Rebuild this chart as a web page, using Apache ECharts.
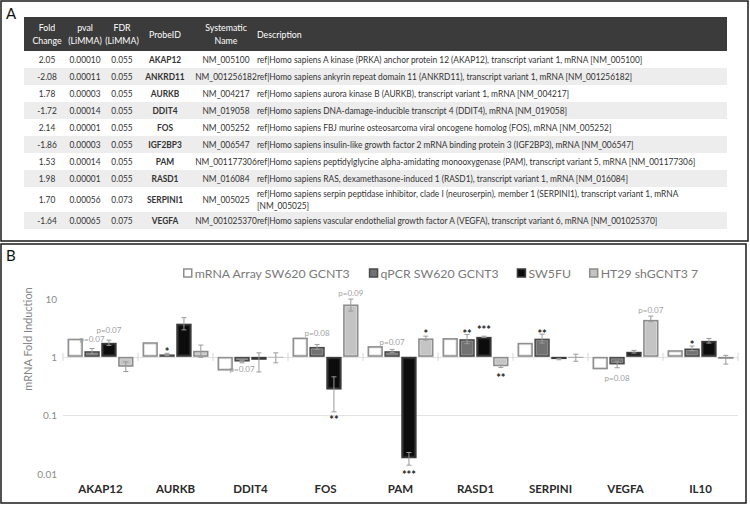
<!DOCTYPE html>
<html><head><meta charset="utf-8">
<script src="https://cdn.jsdelivr.net/npm/echarts@6/dist/echarts.min.js"></script>
<style>html,body{margin:0;padding:0;background:#fff}#c{width:750px;height:505px}</style>
</head><body><div id="c"></div>
<script>
// ---------- Panel A : table ----------
const tableHeaders = [['Fold','Change'],['pval','(LiMMA)'],['FDR','(LiMMA)'],['ProbeID'],['Systematic','Name'],['Description']];
const foldChange = ['2.05','-2.08','1.78','-1.72','2.14','-1.86','1.53','1.98','1.70','-1.64'];
const pvalLimma = ['0.00010','0.00011','0.00003','0.00014','0.00001','0.00003','0.00014','0.00001','0.00056','0.00065'];
const fdrLimma = ['0.055','0.055','0.055','0.055','0.055','0.055','0.055','0.055','0.073','0.075'];
const probeIDs = ['AKAP12','ANKRD11','AURKB','DDIT4','FOS','IGF2BP3','PAM','RASD1','SERPINI1','VEGFA'];
const systematicNames = ['NM_005100','NM_001256182','NM_004217','NM_019058','NM_005252','NM_006547','NM_001177306','NM_016084','NM_005025','NM_001025370'];
const descriptions = [
 'ref|Homo sapiens A kinase (PRKA) anchor protein 12 (AKAP12), transcript variant 1, mRNA [NM_005100]',
 'ref|Homo sapiens ankyrin repeat domain 11 (ANKRD11), transcript variant 1, mRNA [NM_001256182]',
 'ref|Homo sapiens aurora kinase B (AURKB), transcript variant 1, mRNA [NM_004217]',
 'ref|Homo sapiens DNA-damage-inducible transcript 4 (DDIT4), mRNA [NM_019058]',
 'ref|Homo sapiens FBJ murine osteosarcoma viral oncogene homolog (FOS), mRNA [NM_005252]',
 'ref|Homo sapiens insulin-like growth factor 2 mRNA binding protein 3 (IGF2BP3), mRNA [NM_006547]',
 'ref|Homo sapiens peptidylglycine alpha-amidating monooxygenase (PAM), transcript variant 5, mRNA [NM_001177306]',
 'ref|Homo sapiens RAS, dexamethasone-induced 1 (RASD1), transcript variant 1, mRNA [NM_016084]',
 'ref|Homo sapiens serpin peptidase inhibitor, clade I (neuroserpin), member 1 (SERPINI1), transcript variant 1, mRNA\n[NM_005025]',
 'ref|Homo sapiens vascular endothelial growth factor A (VEGFA), transcript variant 6, mRNA [NM_001025370]'
];

// ---------- Panel B : bar chart ----------
const genes = ['AKAP12','AURKB','DDIT4','FOS','PAM','RASD1','SERPINI','VEGFA','IL10'];
const seriesNames = ['mRNA Array SW620 GCNT3','qPCR SW620 GCNT3','SW5FU','HT29 shGCNT3 7'];
const mrnaArray = [2.05, 1.78, 0.581, 2.14, 1.53, 2.1, 1.74, 0.61, 1.3];
const qpcrSW620 = [1.25, 1.1, 0.83, 1.48, 1.25, 2.01, 2.05, 0.74, 1.39];
const sw5fu     = [1.74, 3.7, 0.89, 0.275, 0.0183, 2.2, 0.915, 1.22, 1.88];
const ht29      = [0.676, 1.27, 0.98, 7.9, 2.07, 0.69, 0.97, 4.3, 0.924];
const mrnaErr   = [null,null,null,null,null,null,null,null,null];
const qpcrErr   = [[1.13,1.39],[1.05,1.15],[0.79,0.87],[1.35,1.63],[1.18,1.34],[1.68,2.42],[1.72,2.45],[0.65,0.84],[1.27,1.53]];
const sw5fuErr  = [[1.57,1.93],[2.9,4.7],[0.55,1.17],[0.114,0.454],[0.0139,0.0229],[2.15,2.26],[0.89,0.94],[1.16,1.29],[1.72,2.07]];
const ht29Err   = [[0.56,0.82],[0.98,1.59],[0.79,1.17],[6.08,9.77],[1.93,2.26],[0.66,0.72],[0.84,1.11],[3.98,4.99],[0.75,1.06]];
const yTicks = [0.01, 0.1, 1, 10];
// [gene index, series index, value position, text]
const annotations = [
 [0,1,2.01,'p=0.07'],[0,2,2.87,'p=0.07'],[1,1,1.41,'*'],[2,1,0.615,'p=0.07'],
 [3,1,2.58,'p=0.08'],[3,2,0.0935,'**'],[3,3,12.4,'p=0.09'],
 [4,1,1.81,'p=0.07'],[4,2,0.011,'***'],[4,3,2.79,'*'],
 [5,1,2.87,'**'],[5,2,3.36,'***'],[5,3,0.505,'**'],
 [6,1,2.87,'**'],[7,1,0.426,'p=0.08'],[7,3,6.32,'p=0.07'],[8,1,1.81,'*']
];

// ---------- styles / layout ----------
const FONT = 'Lato, "Open Sans", sans-serif';
const barStyles = [
  {frame:'#8f8f8f', inner:'#ffffff', hl:'#e8e8e8'},
  {frame:'#4a4a4a', inner:'#727272', hl:'#9a9a9a'},
  {frame:'#3a3a3a', inner:'#0c0c0c', hl:'#2a2a2a'},
  {frame:'#8c8c8c', inner:'#c4c4c4', hl:'#dedede'}
];
const seriesValues = [mrnaArray, qpcrSW620, sw5fu, ht29];
const seriesErrs = [mrnaErr, qpcrErr, sw5fuErr, ht29Err];

function barGeom(api, cat, sIdx){
  const c0 = api.coord([cat, 1]);
  const band = api.coord([1,1])[0] - api.coord([0,1])[0];
  const bw = band*0.205, gap = band*0.02;
  const total = 4*bw + 3*gap;
  const x0 = c0[0] - total/2 + sIdx*(bw+gap);
  return {x0, bw, cx: x0 + bw/2, y1: c0[1], band};
}

function makeBarRender(sIdx){
  return function(params, api){
    const cat = api.value(0), v = api.value(1);
    const g = barGeom(api, cat, sIdx);
    const yv = api.coord([cat, v])[1];
    const top = Math.min(yv, g.y1), h = Math.abs(yv - g.y1);
    const st = barStyles[sIdx];
    const ins = 2;
    const children = [
      {type:'rect', shape:{x:g.x0, y:top, width:g.bw, height:h}, style:{fill:st.frame}}
    ];
    if (h > 2*ins) {
      children.push({type:'rect', shape:{x:g.x0+ins, y:top+ins, width:g.bw-2*ins, height:h-2*ins}, style:{fill:st.inner, stroke:st.hl, lineWidth:0.8}});
    }
    return {type:'group', children};
  };
}

function makeErrRender(sIdx){
  return function(params, api){
    const cat = api.value(0), lo = api.value(1), hi = api.value(2);
    const g = barGeom(api, cat, sIdx);
    const yl = api.coord([cat, lo])[1], yh = api.coord([cat, hi])[1];
    const cap = 2.5;
    const st = {stroke:'#9a9a9a', lineWidth:1};
    return {type:'group', children:[
      {type:'line', shape:{x1:g.cx, y1:yl, x2:g.cx, y2:yh}, style:st},
      {type:'line', shape:{x1:g.cx-cap, y1:yl, x2:g.cx+cap, y2:yl}, style:st},
      {type:'line', shape:{x1:g.cx-cap, y1:yh, x2:g.cx+cap, y2:yh}, style:st}
    ]};
  };
}

const series = [];
seriesNames.forEach((name, s) => {
  series.push({
    name, type:'custom', renderItem: makeBarRender(s),
    itemStyle:{color: barStyles[s].inner, borderColor: barStyles[s].frame, borderWidth:1.5},
    data: seriesValues[s].map((v,i)=>[i, v]), z:2
  });
});
seriesNames.forEach((name, s) => {
  const d = [];
  seriesErrs[s].forEach((e,i)=>{ if(e) d.push([i, e[0], e[1]]); });
  series.push({type:'custom', renderItem: makeErrRender(s), data:d, z:3, silent:true});
});
// category boundary ticks on the value-1 line
series.push({
  type:'custom', silent:true, z:1,
  data: genes.concat(['']).map((_,i)=>[i, 1]),
  renderItem: function(params, api){
    const i = api.value(0);
    const band = api.coord([1,1])[0] - api.coord([0,1])[0];
    const x = api.coord([0,1])[0] - band/2 + i*band;
    const y = api.coord([0,1])[1];
    return {type:'line', shape:{x1:x, y1:y-4, x2:x, y2:y+4}, style:{stroke:'#d6d6d6', lineWidth:1}};
  }
});
// annotations
series.push({
  type:'custom', silent:true, z:4, clip:false,
  data: annotations.map(a=>[a[0], a[2]]),
  renderItem: function(params, api){
    const a = annotations[params.dataIndex];
    const g = barGeom(api, a[0], a[1]);
    const y = api.coord([a[0], a[2]])[1];
    const star = a[3].charAt(0) === '*';
    return {type:'text', style:{
      text:a[3], x:g.cx, y: star ? y+3 : y, align:'center', verticalAlign:'middle',
      font: star ? 'bold 11px ' + FONT : '8px ' + FONT,
      fill: star ? '#222222' : '#a0a0a0'
    }};
  }
});

// ---------- graphic: panels + table ----------
const graphic = [];
graphic.push({type:'rect', shape:{x:1, y:1, width:747, height:240}, style:{fill:'none', stroke:'#1a1a1a', lineWidth:1.5}});
graphic.push({type:'rect', shape:{x:1, y:244, width:745, height:259}, style:{fill:'none', stroke:'#1a1a1a', lineWidth:1.5}});
graphic.push({type:'text', style:{text:'A', x:6, y:5, font:'15px ' + FONT, fill:'#111'}});
graphic.push({type:'text', style:{text:'B', x:6, y:247, font:'15px ' + FONT, fill:'#111'}});

const TL = 24, TR = 727, HT = 17, HB = 51;
const colCenters = [47, 85, 122, 165, 226];
const descLeft = 257;
const SX = 0.88; // horizontal condensing of table text
function tText(txt, x, y, align, font, fill, lh){
  return {type:'text', x, y, scaleX:SX, style:{text:txt, x:0, y:0, align, verticalAlign:'middle', font, fill, lineHeight:lh||11}};
}
graphic.push({type:'rect', shape:{x:TL, y:HT, width:TR-TL, height:HB-HT}, style:{fill:'#3b3b3b'}});
tableHeaders.forEach((h, c) => {
  const x = c < 5 ? colCenters[c] : descLeft;
  graphic.push(tText(h.join('\n'), x, (HT+HB)/2, c<5?'center':'left', '10px ' + FONT, '#ffffff', 12.5));
});
let yCur = HB;
probeIDs.forEach((p, r) => {
  const hgt = descriptions[r].indexOf('\n') >= 0 ? 25 : 17;
  if (r % 2 === 1) graphic.push({type:'rect', shape:{x:TL, y:yCur, width:TR-TL, height:hgt}, style:{fill:'#ededed'}});
  const cy = yCur + hgt/2;
  const cells = [foldChange[r], pvalLimma[r], fdrLimma[r], p, systematicNames[r]];
  cells.forEach((t, c) => {
    graphic.push(tText(t, colCenters[c], cy, 'center', (c===3?'bold ':'') + '9.5px ' + FONT, '#333333'));
  });
  graphic.push(tText(descriptions[r], descLeft, cy, 'left', '9.5px ' + FONT, '#333333', 11.5));
  yCur += hgt;
});
graphic.push({type:'text', rotation:Math.PI/2, x:27, y:339, style:{text:'mRNA Fold Induction', x:0, y:0, align:'center', verticalAlign:'middle',
  font:'11px ' + FONT, fill:'#858585'}});

const chart = echarts.init(document.getElementById('c'), null, {renderer:'svg'});
chart.setOption({
  animation:false,
  textStyle:{fontFamily:FONT},
  graphic,
  legend:{
    data: seriesNames.map((n,s)=>({name:n, icon:'rect', itemStyle:{color:barStyles[s].inner, borderColor:barStyles[s].frame, borderWidth:1.5}})),
    left:178, top:262, itemWidth:8, itemHeight:8, itemGap:18,
    textStyle:{fontFamily:FONT, fontSize:12.3, color:'#7a7a7a', padding:[0,0,0,-2]}
  },
  grid:{left:63, right:12, top:298.5, bottom:31.5, containLabel:false},
  xAxis:{type:'category', data:genes,
    axisLine:{show:false}, axisTick:{show:false}, splitLine:{show:false},
    axisLabel:{fontFamily:FONT, fontWeight:'bold', fontSize:11.5, color:'#2a2a2a', margin:9}
  },
  yAxis:{type:'log', logBase:10, min:yTicks[0], max:yTicks[yTicks.length-1],
    axisLine:{show:false}, axisTick:{show:false},
    splitLine:{show:true, showMinLine:false, showMaxLine:false, lineStyle:{color:'#e3e3e3', width:1}},
    axisLabel:{fontFamily:FONT, fontSize:10, color:'#8a8a8a', margin:6,
      formatter: v => String(+v.toPrecision(3))}
  },
  series
});
</script></body></html>
